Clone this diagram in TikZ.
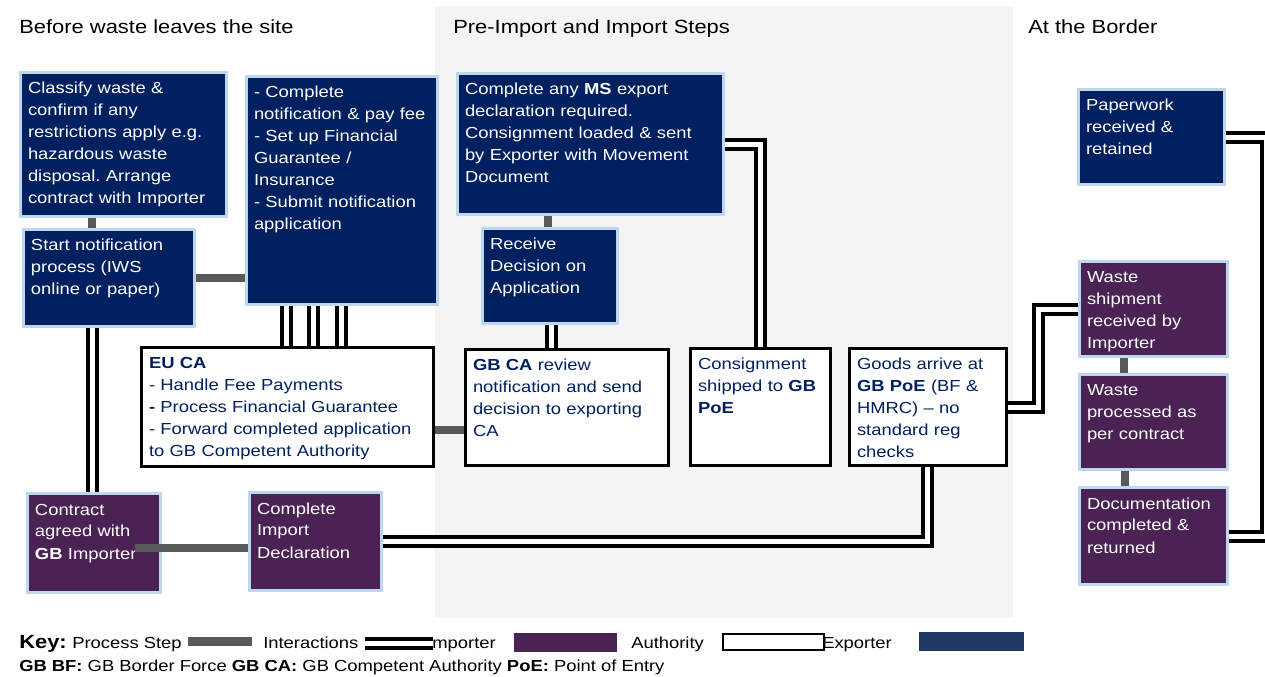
\documentclass[tikz,border=0pt]{standalone}
\usepackage{fontspec}
\setmainfont{Liberation Sans}[FakeStretch=1.15]
\usetikzlibrary{positioning}
\frenchspacing
\definecolor{expblue}{HTML}{002060}
\definecolor{imppurple}{HTML}{4A2354}
\definecolor{edgeblue}{HTML}{BDD7EE}
\definecolor{stepgrey}{HTML}{595959}
\definecolor{panelgrey}{HTML}{F4F4F4}
\definecolor{keyblue}{HTML}{203864}
\tikzset{stage/.style={anchor=north west,align=left,inner xsep=6pt,inner ysep=3pt,
    text height=12.75pt,line width=2.25pt,font=\fontsize{12}{16.5}\selectfont}}
\tikzset{exporter/.style={stage,fill=expblue,draw=edgeblue,text=white},
    importer/.style={stage,fill=imppurple,draw=edgeblue,text=white},
    authority/.style={stage,fill=white,draw=black,text=expblue},
    boxsize/.style 2 args={text width=#1,text depth=#2}}
\tikzset{process/.style={draw=stepgrey,line width=6pt},
    interact/.style={draw=black,line width=3pt,double=white,double distance=3.75pt},
    heading/.style={anchor=base west,inner sep=0pt,font=\fontsize{14.3}{17}\selectfont},
    keytext/.style={anchor=base west,inner sep=0pt,font=\fontsize{12}{14}\selectfont}}

\begin{document}
\begin{tikzpicture}[x=0.75pt,y=-0.75pt]
\useasboundingbox (0,0) rectangle (1265,677);
\clip (0,0) rectangle (1265,677);
\fill[panelgrey] (435,6) rectangle (1013,618);

\node[heading] (tbefore) at (19,33.5) {Before waste leaves the site};
\node[heading] (tpre) at (453,33.5) {Pre-Import and Import Steps};
\node[heading] (tborder) at (1028,33.5) {At the Border};

\node[exporter,boxsize={142.5pt}{89.25pt}] (classify) at (18.5,71.5) {Classify waste \&\\confirm if any\\restrictions apply e.g.\\hazardous waste\\disposal. Arrange\\contract with Importer};
\node[exporter,boxsize={116.25pt}{54pt}] (startnot) at (21.5,228.5) {Start notification\\process (IWS\\online or paper)};
\node[exporter,boxsize={131.25pt}{152.25pt}] (compnot) at (244.5,75.5) {- Complete\\notification \& pay fee\\- Set up Financial\\Guarantee /\\Insurance\\- Submit notification\\application};
\node[exporter,boxsize={187.5pt}{87pt}] (msexp) at (455.5,72.5) {Complete any \textbf{MS} export\\declaration required.\\Consignment loaded \& sent\\by Exporter with Movement\\Document};
\node[exporter,boxsize={89.25pt}{52.5pt}] (receive) at (480.5,227.5) {Receive\\Decision on\\Application};
\node[exporter,boxsize={97.5pt}{52.5pt}] (paper) at (1076.5,88.5) {Paperwork\\received \&\\retained};

\node[importer,boxsize={87.75pt}{54.75pt}] (contract) at (25.5,492.5) {Contract\\agreed with\\\textbf{GB} Importer};
\node[importer,boxsize={87pt}{54pt}] (impdecl) at (247.5,491.5) {Complete\\Import\\Declaration};
\node[importer,boxsize={99pt}{52.5pt}] (ship) at (1077.5,260.5) {Waste\\shipment\\received by\\Importer};
\node[importer,boxsize={99pt}{52.5pt},below=11.25pt of ship.south west,anchor=north west] (proc) {Waste\\processed as\\per contract};
\node[importer,boxsize={99pt}{53.25pt},below=11.25pt of proc.south west,anchor=north west] (docu) {Documentation\\completed \&\\returned};

\node[authority,boxsize={207pt}{70.5pt}] (euca) at (139.5,346.5) {\textbf{EU CA}\\- Handle Fee Payments\\\textbf{-} Process Financial Guarantee\\- Forward completed application\\to GB Competent Authority};
\node[authority,boxsize={140.25pt}{68.25pt}] (gbca) at (463.5,348.5) {\textbf{GB CA} review\\notification and send\\decision to exporting\\CA};
\node[authority,boxsize={93pt}{69pt}] (consign) at (688.5,347.5) {Consignment\\shipped to \textbf{GB}\\\textbf{PoE}};
\node[authority,boxsize={105.75pt}{69pt}] (goods) at (847.5,347.5) {Goods arrive at\\\textbf{GB PoE} (BF \&\\HMRC) -- no\\standard reg\\checks};

\draw[process] (92,0 |- classify.south) -- (92,0 |- startnot.north);
\draw[process] (startnot.east) -- (startnot.east -| compnot.west);
\draw[process] (euca.east |- 0,430) -- (gbca.west |- 0,430);
\draw[process] ([xshift=-20pt,yshift=-3.4pt]contract.east) -- ([yshift=-3.4pt]contract.east -| impdecl.west);
\draw[process] (548,0 |- msexp.south) -- (548,0 |- receive.north);
\draw[process] (1124,0 |- ship.south) -- (1124,0 |- proc.north);
\draw[process] (1125,0 |- proc.south) -- (1125,0 |- docu.north);

\draw[interact] (92,0 |- startnot.south) -- (92,0 |- contract.north);
\foreach \x in {286,313,341}
    \draw[interact] (\x,0 |- compnot.south) -- (\x,0 |- euca.north);
\draw[interact] (551,0 |- receive.south) -- (551,0 |- gbca.north);
\draw[interact] (msexp.east) -| (consign.north);
\draw[interact] (goods.south) |- (impdecl.east);
\draw[interact] (goods.east) -- (1038,0 |- goods.east) |- (ship.west);
\draw[interact] (paper.east) -- (1266,0 |- paper.east) |- (docu.east);

\node[keytext,font=\bfseries\fontsize{14.3}{17}\selectfont] (keylabel) at (19,648) {Key:};
\node[keytext] (kstep) at (72,648) {Process Step};
\draw[process,line width=6.75pt] (188,641.5) -- (252,641.5);
\node[keytext] (kinter) at (263,648) {Interactions};
\node[keytext] (kimp) at (427,648) {Importer};
\draw[interact] (365,643.5) -- (433,643.5);
\fill[imppurple] (514,633) rectangle (617,652);
\node[keytext] (kauth) at (631,648) {Authority};
\node[keytext] (kexp) at (822,648) {Exporter};
\draw[fill=white,line width=1.5pt] (723,634) rectangle (824,650);
\fill[keyblue] (919,632) rectangle (1024,651);
\node[keytext] (kabbr) at (19,671) {\textbf{GB BF:} GB Border Force \textbf{GB CA:} GB Competent Authority \textbf{PoE:} Point of Entry};
\end{tikzpicture}
\end{document}
